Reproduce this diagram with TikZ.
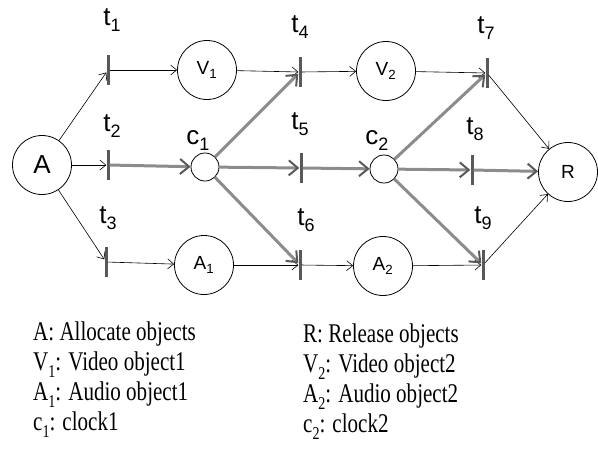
\documentclass[tikz,border=0pt]{standalone}
\usepackage{fontspec}
\setmainfont{Liberation Serif}
\setsansfont{Liberation Sans}
\newfontfamily\keyfont[FakeStretch=0.78]{Liberation Serif}
\usetikzlibrary{arrows.meta}

% lowered index, as in the scan
\newcommand{\lsub}[2][6pt]{\raisebox{-#1}{\fontsize{18}{18}\selectfont #2}}

\tikzset{
  place/.style={circle, draw, line width=0.8pt, minimum size=59pt, inner sep=0pt,
    font=\sffamily\fontsize{19}{21}\selectfont},
  clk/.style={circle, draw, line width=0.8pt, minimum size=28pt, inner sep=0pt},
  trans/.style={fill=black!65, minimum width=3pt, minimum height=30pt, inner sep=0pt},
  tlbl/.style={font=\sffamily\fontsize{26}{30}\selectfont},
  arc/.style={-{Straight Barb[length=6pt,width=10pt]}, line width=0.6pt},
  clkarc/.style={-{Straight Barb[length=9pt,width=15pt,line width=2pt,color=black!65]},
    line width=3pt, black!45},
  legend/.style={anchor=base west, inner sep=0pt, font=\keyfont\fontsize{27}{31}\selectfont}
}

\begin{document}
\begin{tikzpicture}[x=1pt,y=-1pt]
    \useasboundingbox (0,0) rectangle (598,459);
    % places
    \node[place, font=\sffamily\fontsize{26}{28}\selectfont] (A) at (42,165) {A};
    \node[place] (V1) at (207,70) {V\textsubscript{1}};
    \node[place] (A1) at (204,265) {A\textsubscript{1}};
    \node[place] (V2) at (386,71) {V\textsubscript{2}};
    \node[place] (A2) at (383,266) {A\textsubscript{2}};
    \node[place] (R) at (568,172) {R};
    \node[clk] (c1) at (205,167) {};
    \node[clk] (c2) at (384,169) {};
    % transitions
    \node[trans] (t1) at (108,70) {};
    \node[trans] (t2) at (108,165) {};
    \node[trans] (t3) at (106,262) {};
    \node[trans] (t4) at (300,72) {};
    \node[trans] (t5) at (301,168) {};
    \node[trans] (t6) at (300,265) {};
    \node[trans] (t7) at (487,73) {};
    \node[trans] (t8) at (472,170) {};
    \node[trans] (t9) at (483,265) {};
    % labels
    \node[tlbl] (lt1) at (112,20) {t\lsub{1}};
    \node[tlbl] (lt2) at (112,126) {t\lsub{2}};
    \node[tlbl] (lt3) at (108,218) {t\lsub{3}};
    \node[tlbl] (lc1) at (198,140) {c\lsub{1}};
    \node[tlbl] (lt4) at (300,27) {t\lsub{4}};
    \node[tlbl] (lt5) at (300,124) {t\lsub{5}};
    \node[tlbl] (lt6) at (306,220) {t\lsub{6}};
    \node[tlbl] (lc2) at (377,140) {c\lsub{2}};
    \node[tlbl] (lt7) at (486,28) {t\lsub{7}};
    \node[tlbl] (lt8) at (475,129) {t\lsub{8}};
    \node[tlbl] (lt9) at (483,218) {t\lsub{9}};
    % ordinary arcs
    \draw[arc] (A) -- (t1);
    \draw[arc] (A) -- (t2);
    \draw[arc] (A) -- (t3);
    \draw[arc] (t1) -- (V1);
    \draw[arc] (t3) -- (A1);
    \draw[arc] (V1) -- (t4);
    \draw[arc] (A1) -- (t6);
    \draw[arc] (t4) -- (V2);
    \draw[arc] (t6) -- (A2);
    \draw[arc] (V2) -- (t7);
    \draw[arc] (A2) -- (t9);
    \draw[arc] (t7) -- (R);
    \draw[arc] (t9) -- (R);
    % clock arcs
    \draw[clkarc] (t2) -- (c1);
    \draw[clkarc] (c1) -- (t4);
    \draw[clkarc] (c1) -- (t5);
    \draw[clkarc] (c1) -- (t6);
    \draw[clkarc] (t5) -- (c2);
    \draw[clkarc] (c2) -- (t7);
    \draw[clkarc] (c2) -- (t8);
    \draw[clkarc] (c2) -- (t9);
    \draw[clkarc] (t8) -- (R);
    % legend
    \node[legend] (kA) at (33,340) {A: Allocate objects};
    \node[legend] (kV1) at (33,370) {V\lsub[7pt]{1}: Video object1};
    \node[legend] (kA1) at (33,400) {A\lsub[7pt]{1}: Audio object1};
    \node[legend] (kc1) at (33,430) {c\lsub[7pt]{1}: clock1};
    \node[legend] (kR) at (303,342) {R: Release objects};
    \node[legend] (kV2) at (303,372) {V\lsub[7pt]{2}: Video object2};
    \node[legend] (kA2) at (303,402) {A\lsub[7pt]{2}: Audio object2};
    \node[legend] (kc2) at (303,432) {c\lsub[7pt]{2}: clock2};
\end{tikzpicture}
\end{document}
